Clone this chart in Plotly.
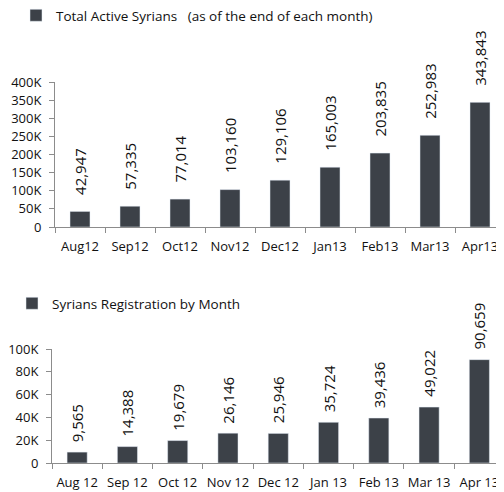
import plotly.graph_objects as go

months_total = ["Aug12", "Sep12", "Oct12", "Nov12", "Dec12", "Jan13", "Feb13", "Mar13", "Apr13"]
total_active = [42947, 57335, 77014, 103160, 129106, 165003, 203835, 252983, 343843]

months_reg = ["Aug 12", "Sep 12", "Oct 12", "Nov 12", "Dec 12", "Jan 13", "Feb 13", "Mar 13", "Apr 13"]
registrations = [9565, 14388, 19679, 26146, 25946, 35724, 39436, 49022, 90659]

top_ticks = [0, 50000, 100000, 150000, 200000, 250000, 300000, 350000, 400000]
top_ticklabels = ["0", "50K", "100K", "150K", "200K", "250K", "300K", "350K", "400K"]
bot_ticks = [0, 20000, 40000, 60000, 80000, 100000]
bot_ticklabels = ["0", "20K", "40K", "60K", "80K", "100K"]

BAR = "#3c4148"
AXIS = "#8c8c8c"
FONT = "Open Sans"
# page body has an 8px margin, so the figure is sized to fit the window
W, H = 496, 484

fig = go.Figure()
fig.add_trace(go.Bar(x=months_total, y=total_active, marker_color=BAR,
                     name="Total Active Syrians   (as of the end of each month)",
                     xaxis="x", yaxis="y", legend="legend", width=0.4))
fig.add_trace(go.Bar(x=months_reg, y=registrations, marker_color=BAR,
                     name="Syrians Registration by Month",
                     xaxis="x2", yaxis="y2", legend="legend2", width=0.4))

annotations = []
for m, v in zip(months_total, total_active):
    annotations.append(dict(x=m, y=v, xref="x", yref="y", text=f"{v:,}", textangle=-90,
                            showarrow=False, yanchor="bottom", yshift=14,
                            font=dict(family=FONT, size=15, color="#111")))
for m, v in zip(months_reg, registrations):
    annotations.append(dict(x=m, y=v, xref="x2", yref="y2", text=f"{v:,}", textangle=-90,
                            showarrow=False, yanchor="bottom", yshift=8,
                            font=dict(family=FONT, size=15, color="#111")))

axis_common = dict(showline=True, linecolor=AXIS, linewidth=1, ticks="outside",
                   tickcolor=AXIS, ticklen=5, showgrid=False, zeroline=False,
                   tickfont=dict(family=FONT, size=13, color="#111"), automargin=False)

fig.update_layout(
    width=W, height=H,
    margin=dict(l=0, r=0, t=0, b=0, autoexpand=False),
    paper_bgcolor="white", plot_bgcolor="white",
    font=dict(family=FONT, size=13, color="#111"),
    xaxis=dict(domain=[47 / W, 1], anchor="y", type="category", range=[-0.5, 8.48],
               tickson="boundaries", tickangle=0, ticklabelstandoff=7, **axis_common),
    yaxis=dict(domain=[1 - 219 / H, 1 - 74 / H], anchor="x", range=[0, 400000],
               tickvals=top_ticks, ticktext=top_ticklabels, ticklabelstandoff=5, **axis_common),
    xaxis2=dict(domain=[44 / W, 1], anchor="y2", type="category", range=[-0.5, 8.49],
                tickson="boundaries", tickangle=0, ticklabelstandoff=7, **axis_common),
    yaxis2=dict(domain=[1 - 455 / H, 1 - 341 / H], anchor="x2", range=[0, 100000],
                tickvals=bot_ticks, ticktext=bot_ticklabels, ticklabelstandoff=5, **axis_common),
    legend=dict(x=8 / W, y=1 + 8 / H, xanchor="left", yanchor="top",
                font=dict(family=FONT, size=13.5, color="#111"), itemwidth=30,
                bgcolor="rgba(0,0,0,0)"),
    legend2=dict(x=4 / W, y=1 - 280 / H, xanchor="left", yanchor="top",
                 font=dict(family=FONT, size=13.5, color="#111"), itemwidth=30,
                 bgcolor="rgba(0,0,0,0)"),
    annotations=annotations,
    showlegend=True,
)

fig.write_html("out.html")
